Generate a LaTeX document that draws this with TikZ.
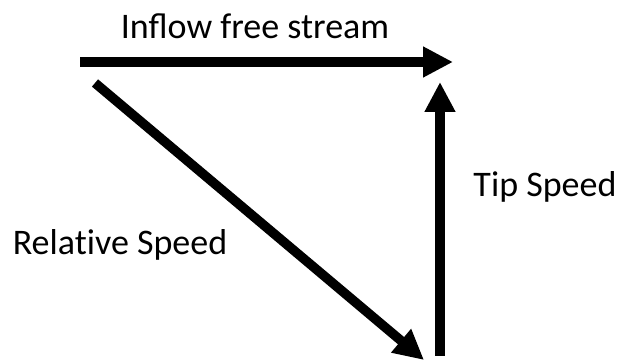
\documentclass[tikz,border=0pt]{standalone}
\usepackage{fontspec}
\setmainfont{Carlito}
\usetikzlibrary{arrows.meta}

\begin{document}
\begin{tikzpicture}[x=1pt,y=1pt,
    vec/.style={line width=9.5pt,-{Triangle[length=30pt,width=29pt]}},
    lbl/.style={font=\fontsize{36}{42}\selectfont,inner sep=0pt}]
    \useasboundingbox (0,0) rectangle (619,361);

    \coordinate (inA) at (80,299);
    \coordinate (inB) at (453,299);
    \coordinate (tipA) at (440,5);
    \coordinate (tipB) at (440,279);
    \coordinate (relA) at (95,278);
    \coordinate (relB) at (424,1);

    \draw[vec] (inA) -- (inB);
    \draw[vec] (tipA) -- (tipB);
    \draw[vec] (relA) -- (relB);

    \node[lbl] (inflow) at (255,335) {Inflow free stream};
    \node[lbl] (tip) at (545,174) {Tip Speed};
    \node[lbl] (rel) at (120,116) {Relat\kern0pt ive Speed};
\end{tikzpicture}
\end{document}
